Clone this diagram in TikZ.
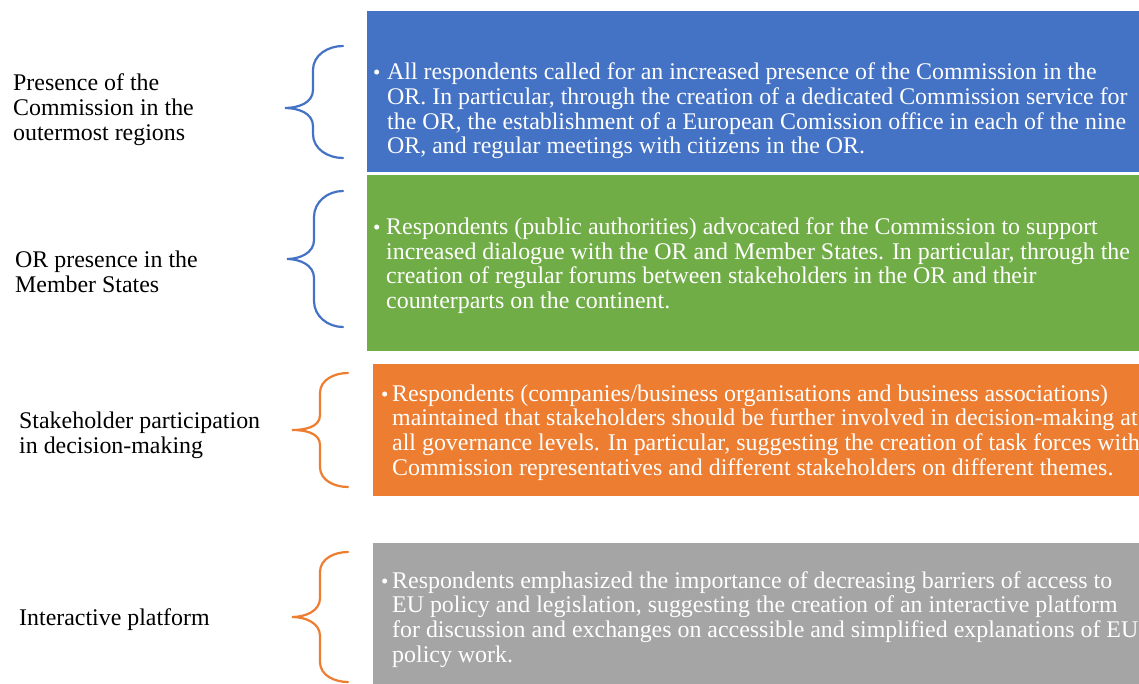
\documentclass[tikz,border=0pt]{standalone}
\usepackage{fontspec}
\setmainfont{Liberation Serif}
\definecolor{cblue}{HTML}{4472C4}
\definecolor{cgreen}{HTML}{70AD47}
\definecolor{corange}{HTML}{ED7D31}
\definecolor{cgray}{HTML}{A5A5A5}
\newcommand{\bracepath}[9]{%
  \draw[#1] (#2,#5) to[out=180,in=90] (#3,#5+#8) -- (#3,#6-#9)
    to[out=270,in=0] (#4,#6) to[out=0,in=90] (#3,#6+#9)
    -- (#3,#7-#8) to[out=270,in=180] (#2,#7);}
\tikzset{
  brc/.style={line width=2.2pt, line cap=round},
  lbl/.style={anchor=base west, inner sep=0pt, align=left,
    font=\fontsize{23.9}{24.8}\selectfont, text=black},
  body/.style={anchor=base west, inner sep=0pt, align=left,
    font=\fontsize{23.9}{24.7}\selectfont, text=white},
  bul/.style={anchor=base west, inner sep=0pt,
    font=\fontsize{21}{24.7}\selectfont, text=white}
}
\begin{document}
\begin{tikzpicture}[x=1pt,y=-1pt]
\useasboundingbox (0,0) rectangle (1139,684);
\begin{scope}
\clip (0,0) rectangle (1139,684);
% boxes
\fill[cblue]   (367,11)  rectangle (1139,172);
\fill[cgreen]  (367,175) rectangle (1139,351);
\fill[corange] (373,364) rectangle (1139,496);
\fill[cgray]   (373,543) rectangle (1139,684);
% braces
\bracepath{brc,cblue}{343}{313}{285}{46}{108}{158}{24}{18}
\bracepath{brc,cblue}{343}{314}{287}{191}{259}{327}{26}{19}
\bracepath{brc,corange}{348}{320}{292}{373}{430}{487}{20}{15}
\bracepath{brc,corange}{348}{320}{292}{552}{617}{682}{20}{19}
% labels (anchor = baseline of last line)
\node[lbl] (l1) at (13,140.2) {Presence of the\\Commission in the\\outermost regions};
\node[lbl] (l2) at (15,292) {OR presence in the\\Member States};
\node[lbl] (l3) at (19,453) {Stakeholder participation\\in decision-making};
\node[lbl] (l4) at (19,625.2) {Interactive platform};
% box texts
\node[bul] (b1) at (373,79.8) {•};
\node[body] (t1) at (387,153.9) {All respondents called for an increased presence of the Commission in the\\OR. In particular, through the creation of a dedicated Commission service for\\the OR, the establishment of a European Comission office in each of the nine\\OR, and regular meetings with citizens in the OR.};
\node[bul] (b2) at (373,234.5) {•};
\node[body] (t2) at (386,308.6) {Respondents (public authorities) advocated for the Commission to support\\increased dialogue with the OR and Member States. In particular, through the\\creation of regular forums between stakeholders in the OR and their\\counterparts on the continent.};
\node[bul] (b3) at (381,401) {•};
\node[body] (t3) at (392,475.1) {Respondents (companies/business organisations and business associations)\\maintained that stakeholders should be further involved in decision-making at\\all governance levels. In particular, suggesting the creation of task forces with\\Commission representatives and different stakeholders on different themes.};
\node[bul] (b4) at (381,588) {•};
\node[body] (t4) at (392,662.1) {Respondents emphasized the importance of decreasing barriers of access to\\EU policy and legislation, suggesting the creation of an interactive platform\\for discussion and exchanges on accessible and simplified explanations of EU\\policy work.};
\end{scope}
\end{tikzpicture}
\end{document}
